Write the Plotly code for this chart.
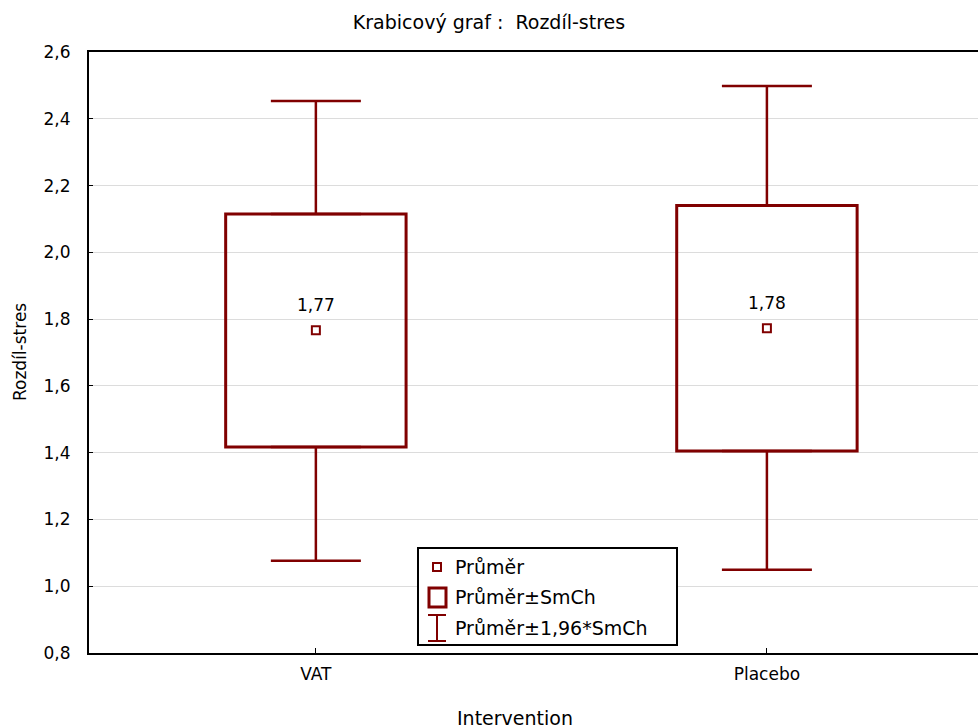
import plotly.graph_objects as go

# ---- data ----
categories = ["VAT", "Placebo"]
means = [1.767, 1.773]
mean_labels = ["1,77", "1,78"]
box_lower = [1.417, 1.405]
box_upper = [2.115, 2.140]
whisk_lower = [1.076, 1.049]
whisk_upper = [2.453, 2.498]

y_ticks = [0.8, 1.0, 1.2, 1.4, 1.6, 1.8, 2.0, 2.2, 2.4, 2.6]

DARK = "#800000"
FONT = "DejaVu Sans, Arial, sans-serif"
FS = 17

# plot area in pixels
L, R, T, B = 89, 978, 52, 653
W, H = 978, 728


def px(x):
    return (x - L) / (R - L)


def py(y):
    return (B - y) / (B - T)


fig = go.Figure()

# boxes (mean ± SE)
fig.add_trace(go.Bar(
    x=categories,
    y=[u - l for u, l in zip(box_upper, box_lower)],
    base=box_lower,
    width=0.4,
    marker=dict(color="rgba(0,0,0,0)", line=dict(color=DARK, width=3)),
    showlegend=False,
    hoverinfo="skip",
))

# upper whiskers
fig.add_trace(go.Scatter(
    x=categories, y=box_upper, mode="markers",
    marker=dict(size=1, color="rgba(0,0,0,0)"),
    error_y=dict(type="data", symmetric=False,
                 array=[w - u for w, u in zip(whisk_upper, box_upper)],
                 arrayminus=[0, 0], color=DARK, thickness=2.5, width=45),
    showlegend=False, hoverinfo="skip",
))
# lower whiskers
fig.add_trace(go.Scatter(
    x=categories, y=box_lower, mode="markers",
    marker=dict(size=1, color="rgba(0,0,0,0)"),
    error_y=dict(type="data", symmetric=False,
                 array=[0, 0],
                 arrayminus=[l - w for l, w in zip(box_lower, whisk_lower)],
                 color=DARK, thickness=2.5, width=45),
    showlegend=False, hoverinfo="skip",
))

# means
fig.add_trace(go.Scatter(
    x=categories, y=means, mode="markers",
    marker=dict(symbol="square-open", size=8, color=DARK, line=dict(width=2, color=DARK)),
    showlegend=False, hoverinfo="skip",
))

annotations = []
for c, m, lab in zip(categories, means, mean_labels):
    annotations.append(dict(x=c, y=m, text=lab, showarrow=False, yshift=25,
                            font=dict(family=FONT, size=FS, color="black")))

# axis titles
annotations.append(dict(xref="paper", yref="paper", x=px(20), y=py(352), text="Rozdíl-stres",
                        textangle=-90, showarrow=False, xanchor="center", yanchor="middle",
                        font=dict(family=FONT, size=FS, color="black")))
annotations.append(dict(xref="paper", yref="paper", x=px(515), y=py(718), text="Intervention",
                        showarrow=False, xanchor="center", yanchor="middle",
                        font=dict(family=FONT, size=19, color="black")))

# custom legend
shapes = []
shapes.append(dict(type="rect", xref="paper", yref="paper", x0=px(418), x1=px(677), y0=py(645), y1=py(548),
                   line=dict(color="black", width=2), fillcolor="white", layer="above"))
shapes.append(dict(type="rect", xref="paper", yref="paper", x0=px(433), x1=px(441), y0=py(571), y1=py(563),
                   line=dict(color=DARK, width=2), fillcolor="white", layer="above"))
shapes.append(dict(type="rect", xref="paper", yref="paper", x0=px(429), x1=px(446), y0=py(607), y1=py(588),
                   line=dict(color=DARK, width=3), fillcolor="white", layer="above"))
for seg in [((428, 615), (446, 615)), ((437, 615), (437, 641)), ((428, 641), (446, 641))]:
    (xa, ya), (xb, yb) = seg
    shapes.append(dict(type="line", xref="paper", yref="paper", x0=px(xa), x1=px(xb), y0=py(ya), y1=py(yb),
                       line=dict(color=DARK, width=2), layer="above"))

legend_texts = ["Průměr", "Průměr±SmCh", "Průměr±1,96*SmCh"]
legend_ys = [567, 597, 628]
for t, yy in zip(legend_texts, legend_ys):
    annotations.append(dict(xref="paper", yref="paper", x=px(453), y=py(yy), text=t, showarrow=False,
                            xanchor="left", yanchor="middle",
                            font=dict(family=FONT, size=19, color="black")))

fig.update_layout(
    width=W, height=H,
    margin=dict(l=L, r=W - R, t=T, b=H - B),
    paper_bgcolor="white", plot_bgcolor="white",
    separators=", ",
    font=dict(family=FONT, size=FS, color="black"),
    title=dict(text="Krabicový graf :  Rozdíl-stres", x=0.5, xanchor="center",
               y=1 - 22 / H, yanchor="middle", font=dict(family=FONT, size=19, color="black")),
    showlegend=False,
    annotations=annotations,
    shapes=shapes,
    xaxis=dict(range=[-0.503, 1.468], showgrid=False, zeroline=False,
               showline=True, linecolor="black", linewidth=2, mirror=True,
               ticks="inside", ticklen=5, tickcolor="black", tickwidth=1,
               tickfont=dict(family=FONT, size=FS), ticklabelstandoff=5),
    yaxis=dict(range=[0.8, 2.6], tickvals=y_ticks, tickformat=".1f",
               showgrid=True, gridcolor="#dcdcdc", gridwidth=1, zeroline=False,
               showline=True, linecolor="black", linewidth=2,
               ticks="inside", ticklen=4, tickcolor="black", tickwidth=1,
               tickfont=dict(family=FONT, size=FS), ticklabelstandoff=13),
)

fig.write_html("out.html")
